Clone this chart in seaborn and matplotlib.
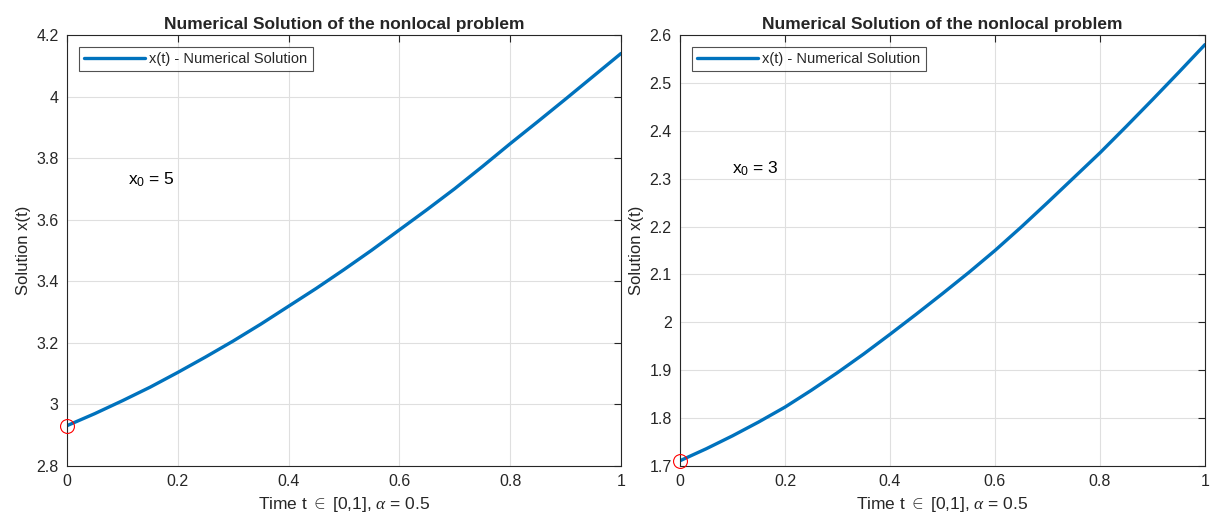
import numpy as np
import pandas as pd
import matplotlib
matplotlib.use('Agg')
import matplotlib.pyplot as plt
import seaborn as sns

# values
t_vals = [0.0, 0.05, 0.1, 0.15, 0.2, 0.25, 0.3, 0.35, 0.4, 0.45, 0.5,
          0.55, 0.6, 0.65, 0.7, 0.75, 0.8, 0.85, 0.9, 0.95, 1.0]
x_left = [2.931, 2.970, 3.012, 3.056, 3.104, 3.154, 3.206, 3.261, 3.319, 3.377, 3.438,
          3.501, 3.567, 3.633, 3.701, 3.773, 3.847, 3.919, 3.992, 4.066, 4.140]
x_right = [1.711, 1.736, 1.763, 1.792, 1.823, 1.858, 1.895, 1.934, 1.975, 2.017, 2.060,
           2.104, 2.150, 2.199, 2.250, 2.302, 2.354, 2.409, 2.465, 2.522, 2.580]

left_yticks = [2.8, 3, 3.2, 3.4, 3.6, 3.8, 4, 4.2]
right_yticks = [1.7, 1.8, 1.9, 2, 2.1, 2.2, 2.3, 2.4, 2.5, 2.6]
xticks = [0, 0.2, 0.4, 0.6, 0.8, 1]

sns.set_style('white')
plt.rcParams['font.family'] = ['Liberation Sans', 'DejaVu Sans']
plt.rcParams['mathtext.fontset'] = 'custom'
plt.rcParams['mathtext.rm'] = 'Liberation Sans'
plt.rcParams['mathtext.it'] = 'Liberation Serif:italic'

LINE_COLOR = '#0072BD'
EDGE = '#262626'

fig = plt.figure(figsize=(12.11, 5.23), dpi=100)
ax1 = fig.add_axes([67 / 1211, 1 - 466 / 523, 554 / 1211, 431 / 523])
ax2 = fig.add_axes([680 / 1211, 1 - 466 / 523, 525 / 1211, 431 / 523])


def fmt(v):
    return ('%g' % v)


def draw(ax, xs, ylim, yticks, note, note_pos):
    df = pd.DataFrame({'t': t_vals, 'x': xs})
    sns.lineplot(data=df, x='t', y='x', ax=ax, color=LINE_COLOR, linewidth=2.4,
                 label='x(t) - Numerical Solution')
    ax.plot([t_vals[0]], [xs[0]], 'o', mfc='none', mec='red', ms=10, mew=0.8,
            clip_on=False, zorder=5)
    ax.set_xlim(0, 1)
    ax.set_ylim(*ylim)
    ax.set_xticks(xticks)
    ax.set_xticklabels([fmt(v) for v in xticks])
    ax.set_yticks(yticks)
    ax.set_yticklabels([fmt(v) for v in yticks])
    ax.grid(True, color='#dfdfdf', linewidth=0.8)
    ax.set_axisbelow(True)
    for s in ax.spines.values():
        s.set_color(EDGE)
        s.set_linewidth(0.8)
    ax.tick_params(direction='in', length=5, width=0.8, colors=EDGE,
                   labelsize=11.5, top=True, right=True, pad=6)
    ax.set_title('Numerical Solution of the nonlocal problem', fontsize=12.5,
                 fontweight='bold', pad=4)
    ax.set_xlabel(r'Time t $\in$ [0,1], $\alpha$ = 0.5', fontsize=12.5, color=EDGE, labelpad=4)
    ax.set_ylabel('Solution x(t)', fontsize=12, color=EDGE, labelpad=4)
    ax.text(note_pos[0], note_pos[1], note, fontsize=12.5, color='black')
    leg = ax.legend(loc='upper left', fontsize=10.5, frameon=True, fancybox=False,
                    handlelength=4.2, handletextpad=0.3, borderpad=0.35,
                    borderaxespad=0.8)
    leg.get_frame().set_edgecolor(EDGE)
    leg.get_frame().set_linewidth(0.8)


draw(ax1, x_left, (2.8, 4.2), left_yticks, r'x$_0$ = 5', (0.11, 3.715))
draw(ax2, x_right, (1.7, 2.6), right_yticks, r'x$_0$ = 3', (0.1, 2.31))

fig.savefig('out.png', dpi=100)
